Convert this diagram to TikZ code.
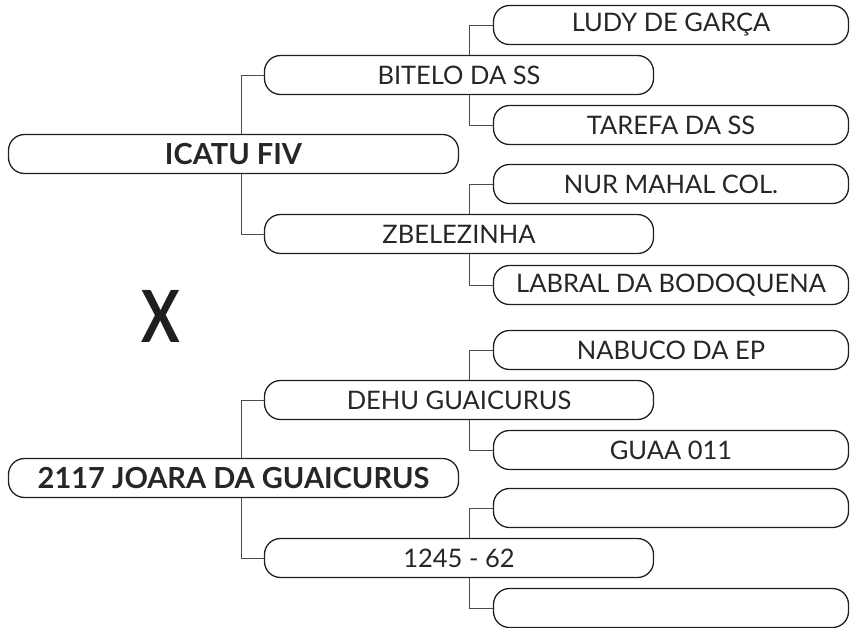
\documentclass[tikz,border=0pt]{standalone}
\usepackage{fontspec}
\setmainfont{Lato}
\usepackage{xcolor}
\usepackage{tikz}
\usetikzlibrary{positioning,calc}

\begin{document}
\begin{tikzpicture}[
  x=1pt,y=-1pt,
  pbox/.style={draw=black!88, line width=1.3pt, rounded corners=16pt, minimum height=39pt, inner sep=0pt, text=black!85, font=\fontsize{25.5}{25.5}\selectfont},
  gen1/.style={pbox, minimum width=450pt, font=\bfseries\fontsize{29}{29}\selectfont},
  gen2/.style={pbox, minimum width=389pt},
  gen3/.style={pbox, minimum width=355pt},
  link/.style={line width=0.9pt, draw=black!70}
]
\useasboundingbox (0,0) rectangle (850,627);
% sire side
\node[gen1] (icatu) at (233.5,154) {ICATU FIV};
\node[gen2] (bitelo) at (459,75) {BITELO DA SS};
\node[gen2] (zbel) at (459,234) {ZBELEZINHA};
\node[gen3] (ludy) at (671,25) {LUDY DE GARÇA};
\node[gen3] (tarefa) at (671,125) {TAREFA DA SS};
\node[gen3] (nur) at (671,184) {NUR MAHAL COL.};
\node[gen3] (labral) at (671,285) {LABRAL DA BODOQUENA};
% cross
\node[font=\bfseries\fontsize{72}{72}\selectfont, text=black!88, xscale=0.8] (cross) at (161,316) {X};
% dam side
\node[gen1] (joara) at (233.5,478) {2117 JOARA DA GUAICURUS};
\node[gen2] (dehu) at (459,400) {DEHU GUAICURUS};
\node[gen2] (mae) at (459,558) {1245 - 62};
\node[gen3] (nabuco) at (671,350) {NABUCO DA EP};
\node[gen3] (guaa) at (671,450) {GUAA 011};
\node[gen3] (vazio1) at (671,508) {};
\node[gen3] (vazio2) at (671,608) {};
% links
\draw[link] ([xshift=8pt]icatu.north) |- (bitelo.west);
\draw[link] ([xshift=8pt]icatu.south) |- (zbel.west);
\draw[link] ([xshift=10pt]bitelo.north) |- (ludy.west);
\draw[link] ([xshift=10pt]bitelo.south) |- (tarefa.west);
\draw[link] ([xshift=10pt]zbel.north) |- (nur.west);
\draw[link] ([xshift=10pt]zbel.south) |- (labral.west);
\draw[link] ([xshift=8pt]joara.north) |- (dehu.west);
\draw[link] ([xshift=8pt]joara.south) |- (mae.west);
\draw[link] ([xshift=10pt]dehu.north) |- (nabuco.west);
\draw[link] ([xshift=10pt]dehu.south) |- (guaa.west);
\draw[link] ([xshift=10pt]mae.north) |- (vazio1.west);
\draw[link] ([xshift=10pt]mae.south) |- (vazio2.west);
\end{tikzpicture}
\end{document}
